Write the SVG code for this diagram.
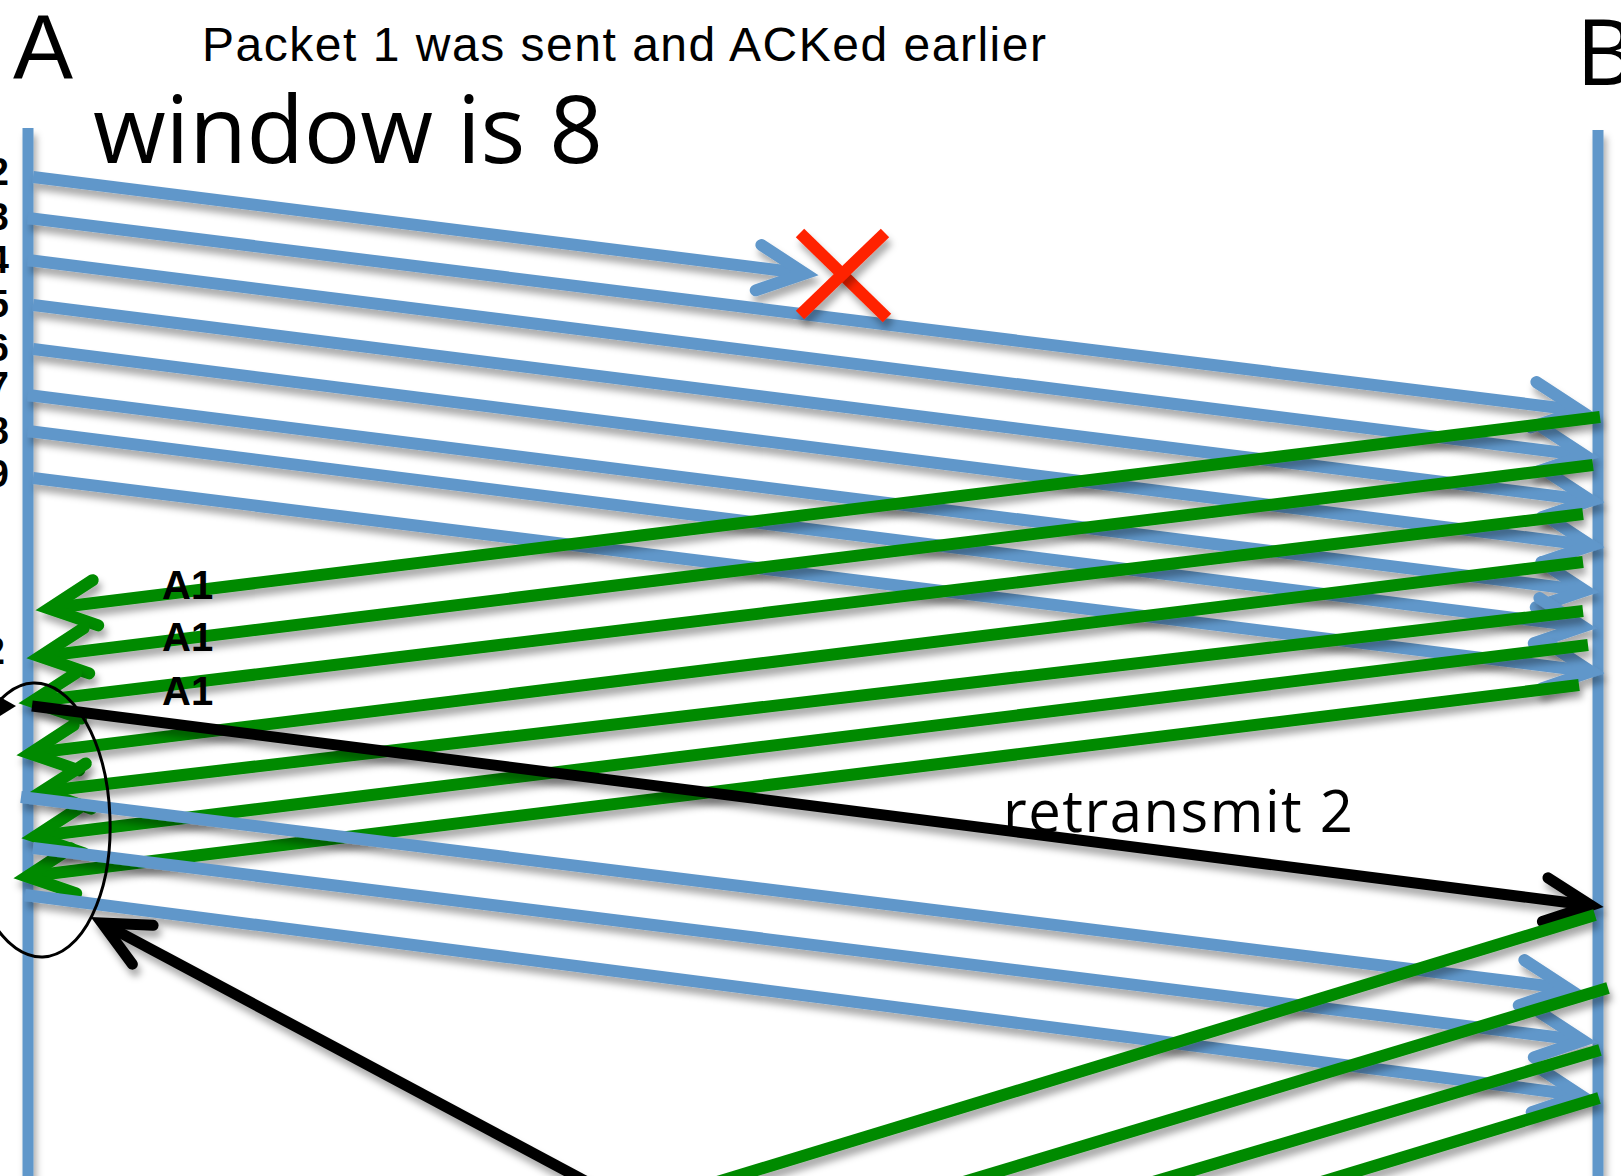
<svg xmlns="http://www.w3.org/2000/svg" width="1621" height="1176" viewBox="0 0 1621 1176">
  <style>
    .life { stroke: #6197CA; stroke-width: 11; fill: none; filter: url(#shadow); }
    .data { stroke: #6197CA; stroke-width: 12; fill: none; stroke-linecap: butt; filter: url(#shadow); }
    .data-arrow { marker-end: url(#head-blue); }
    .ack { stroke: #008A00; stroke-width: 12; fill: none; stroke-linecap: butt; filter: url(#shadow); }
    .ack-arrow { marker-end: url(#head-green); }
    .mark { stroke: #000; stroke-width: 11; fill: none; filter: url(#shadow); marker-end: url(#head-black); }
    .loss { stroke: #FF2400; stroke-width: 12; fill: none; filter: url(#shadow); }
    .sans { font-family: "Liberation Sans", Arial, sans-serif; fill: #000; }
    .soft { font-family: "Open Sans", "Liberation Sans", sans-serif; fill: #000; }
    .seq { font-family: "Liberation Sans", Arial, sans-serif; font-weight: bold; font-size: 38px; fill: #000; text-anchor: end; }
    .ackl { font-family: "Liberation Sans", Arial, sans-serif; font-weight: bold; font-size: 40px; fill: #000; }
  </style>
  <defs>
    <filter id="shadow" filterUnits="userSpaceOnUse" x="-50" y="-50" width="1721" height="1276">
      <feDropShadow dx="3" dy="7" stdDeviation="3.5" flood-color="#000" flood-opacity="0.33"/>
    </filter>
    <marker id="head-blue" markerUnits="strokeWidth" orient="auto" overflow="visible" markerWidth="6" markerHeight="6">
      <path d="M-3.9,-1.9 L0,0 L-3.9,1.9" fill="none" stroke="#6197CA" stroke-width="1" stroke-linecap="round" stroke-linejoin="miter"/>
    </marker>
    <marker id="head-green" markerUnits="strokeWidth" orient="auto" overflow="visible" markerWidth="6" markerHeight="6">
      <path d="M-3.9,-1.9 L0,0 L-3.9,1.9" fill="none" stroke="#008A00" stroke-width="1" stroke-linecap="round" stroke-linejoin="miter"/>
    </marker>
    <marker id="head-black" markerUnits="strokeWidth" orient="auto" overflow="visible" markerWidth="6" markerHeight="6">
      <path d="M-4.2,-2 L0,0 L-4.2,2" fill="none" stroke="#000" stroke-width="1" stroke-linecap="round" stroke-linejoin="miter"/>
    </marker>
  </defs>

  <rect width="1621" height="1176" fill="#fff"/>

  <!-- host A -->
  <g id="host-a">
    <line class="life" x1="28" y1="128" x2="28" y2="1176"/>
    <text class="sans" x="13" y="78" font-size="90">A</text>
  </g>

  <!-- host B -->
  <g id="host-b">
    <line class="life" x1="1598" y1="130" x2="1598" y2="1176"/>
    <text class="soft" x="1576" y="85" font-size="92">B</text>
  </g>

  <!-- titles -->
  <g id="title">
    <text class="sans" x="202" y="61" font-size="48" textLength="844" lengthAdjust="spacing">Packet 1 was sent and ACKed earlier</text>
    <text class="soft" x="93" y="163" font-size="94" textLength="510" lengthAdjust="spacing">window is 8</text>
  </g>

  <!-- sequence numbers at A -->
  <g id="seq-labels">
    <text class="seq" x="9" y="185">2</text>
    <text class="seq" x="9" y="230">3</text>
    <text class="seq" x="9" y="273">4</text>
    <text class="seq" x="9" y="317">5</text>
    <text class="seq" x="9" y="361">6</text>
    <text class="seq" x="9" y="399">7</text>
    <text class="seq" x="9" y="444">8</text>
    <text class="seq" x="9" y="487">9</text>
    <text class="seq" x="5" y="664">2</text>
  </g>

  <g id="connectors">
    <!-- first window of data segments 2..9 -->
    <g id="data-window">
      <line class="data data-arrow" x1="33" y1="177" x2="805" y2="273.5"/>
      <line class="data data-arrow" x1="28" y1="218" x2="1580" y2="410.5"/>
      <line class="data data-arrow" x1="28" y1="260" x2="1585" y2="455.5"/>
      <line class="data data-arrow" x1="33" y1="305" x2="1591" y2="500.5"/>
      <line class="data data-arrow" x1="33" y1="349" x2="1591" y2="545.5"/>
      <line class="data data-arrow" x1="28" y1="395" x2="1585" y2="590.5"/>
      <line class="data data-arrow" x1="28" y1="431" x2="1583" y2="626.5"/>
      <line class="data data-arrow" x1="33" y1="478" x2="1591" y2="671.5"/>
    </g>

    <!-- segment 2 lost -->
    <g id="loss">
      <line class="loss" x1="800" y1="233" x2="887" y2="318"/>
      <line class="loss" x1="885" y1="233" x2="800" y2="315"/>
    </g>

    <!-- duplicate ACKs back to A -->
    <g id="acks">
      <line class="ack ack-arrow" x1="1600" y1="417" x2="49" y2="608.5"/>
      <line class="ack ack-arrow" x1="1593" y1="465" x2="40" y2="656.5"/>
      <line class="ack ack-arrow" x1="1583" y1="514" x2="32" y2="701.5"/>
      <line class="ack ack-arrow" x1="1583" y1="562" x2="30" y2="753.5"/>
      <line class="ack ack-arrow" x1="1583" y1="611" x2="42" y2="791.5"/>
      <line class="ack ack-arrow" x1="1588" y1="645" x2="35" y2="836.5"/>
      <line class="ack ack-arrow" x1="1579" y1="685" x2="27" y2="876.5"/>
    </g>

    <!-- retransmission of segment 2 -->
    <line id="retransmit" class="mark" x1="32" y1="706" x2="1591" y2="905.5"/>

    <!-- next data segments -->
    <g id="data-next">
      <line class="data data-arrow" x1="21" y1="797" x2="1568" y2="988.5"/>
      <line class="data data-arrow" x1="33" y1="848" x2="1583" y2="1040.5"/>
      <line class="data data-arrow" x1="25" y1="895" x2="1581" y2="1095.5"/>
    </g>

    <!-- later ACKs -->
    <g id="acks-next">
      <line class="ack" x1="1595" y1="915" x2="691" y2="1190"/>
      <line class="ack" x1="1608" y1="988" x2="937" y2="1190"/>
      <line class="ack" x1="1600" y1="1050" x2="1126" y2="1190"/>
      <line class="ack" x1="1599" y1="1098" x2="1295" y2="1190"/>
    </g>

    <!-- pointer to the duplicate ACK cluster -->
    <line id="pointer" class="mark" x1="602" y1="1190" x2="102" y2="923"/>
    <polygon id="pointer-left" points="0,697 16,706 0,716" fill="#000"/>
  </g>

  <!-- highlighted region at A -->
  <g id="dup-ack-cluster">
    <ellipse cx="38" cy="820" rx="72" ry="137" transform="rotate(-2 38 820)" fill="none" stroke="#000" stroke-width="3"/>
  </g>

  <!-- ACK labels -->
  <g id="ack-labels">
    <text class="ackl" x="162" y="599">A1</text>
    <text class="ackl" x="162" y="651">A1</text>
    <text class="ackl" x="162" y="705">A1</text>
  </g>

  <g id="retransmit-label">
    <text class="soft" x="1003" y="832" font-size="58" textLength="350" lengthAdjust="spacing">retransmit 2</text>
  </g>
</svg>
